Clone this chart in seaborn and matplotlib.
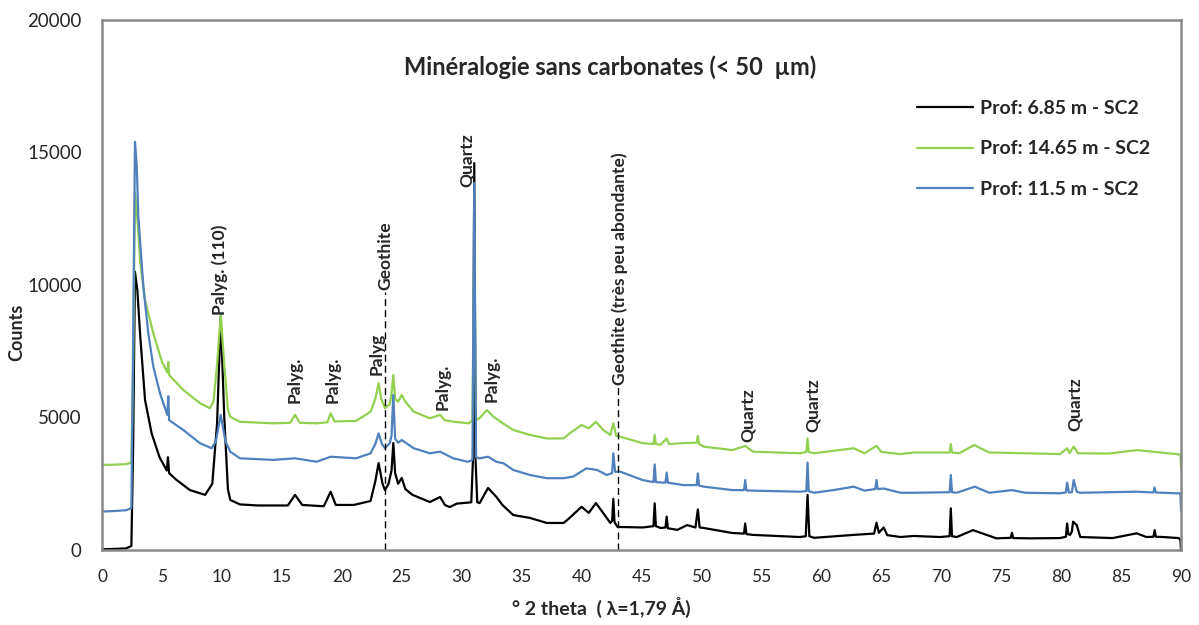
"""XRD patterns, mineralogy without carbonates (< 50 um), SC2 core."""
import matplotlib
matplotlib.use("Agg")
import matplotlib.pyplot as plt
from matplotlib.ticker import MultipleLocator
import pandas as pd
import seaborn as sns

# (2 theta, counts)
black_pts = [
    (0, 30), (1.0, 40), (2.0, 60), (2.45, 150), (2.6, 4000), (2.75, 10500), (2.95, 9800),
    (3.17, 8190), (3.59, 5660), (4.14, 4400), (4.8, 3500), (5.4, 3000), (5.5, 3500), (5.6, 2900),
    (6.2, 2650), (7.34, 2260), (8.6, 2080), (9.2, 2500), (9.6, 4800), (9.9, 8800), (10.2, 5000),
    (10.5, 2300), (10.7, 1890), (11.5, 1720), (13, 1680), (15.5, 1680), (16.1, 2080), (16.7, 1700),
    (18.5, 1650), (19.07, 2200), (19.5, 1700), (21, 1700), (22.4, 1850), (22.8, 2600), (23.07, 3280),
    (23.4, 2500), (23.6, 2260), (23.9, 2500), (24.15, 3000), (24.3, 4040), (24.45, 2900), (24.7, 2500),
    (25.0, 2720), (25.3, 2300), (25.9, 2080), (27.35, 1810), (28.2, 2000), (28.6, 1700), (29.0, 1620),
    (29.6, 1750), (30.8, 1800), (30.95, 3500), (31.05, 14600), (31.15, 3500), (31.3, 1800), (31.5, 1770),
    (32.2, 2340), (32.9, 2000), (33.4, 1700), (34.3, 1320), (35.7, 1210), (37.1, 1020), (38.5, 1020),
    (39.0, 1210), (40.0, 1630), (40.6, 1400), (41.2, 1770), (41.8, 1400), (42.4, 1020), (42.55, 1100),
    (42.65, 1930), (42.75, 1050), (43.0, 870), (45.1, 850), (46.0, 900), (46.1, 1760), (46.2, 900),
    (46.6, 830), (47.0, 850), (47.1, 1260), (47.2, 820), (48.0, 760), (48.8, 940), (49.5, 850),
    (49.7, 1530), (49.85, 850), (50.2, 830), (52.6, 640), (53.55, 620), (53.65, 1000), (53.75, 600),
    (54.3, 570), (58.2, 490), (58.7, 520), (58.85, 2080), (59.0, 520), (59.4, 460), (62.7, 570),
    (64.4, 620), (64.6, 1030), (64.8, 650), (65.2, 850), (65.5, 560), (66.6, 490), (67.7, 530),
    (69.9, 490), (70.7, 520), (70.8, 1570), (70.9, 520), (71.3, 490), (72.65, 750), (73.6, 600),
    (74.6, 440), (75.8, 460), (75.9, 650), (76.0, 450), (77.4, 440), (79.9, 450), (80.4, 500),
    (80.5, 1000), (80.6, 600), (80.75, 570), (80.9, 700), (81.0, 1070), (81.3, 940), (81.6, 490),
    (84.3, 450), (86.3, 630), (87.1, 490), (87.7, 500), (87.8, 750), (87.9, 500), (88.5, 490),
    (89.8, 450), (89.95, 400), (90, 0),
]

green_pts = [
    (0, 3210), (1.0, 3220), (2.0, 3240), (2.45, 3300), (2.6, 7000), (2.75, 13500), (2.95, 12500),
    (3.2, 10800), (3.59, 9430), (4.28, 8180), (5.0, 7100), (5.45, 6700), (5.53, 7100), (5.6, 6600),
    (6.78, 6040), (8.17, 5540), (9.0, 5350), (9.3, 5600), (9.6, 7000), (9.9, 8900), (10.2, 7000),
    (10.5, 5300), (10.7, 5030), (11.5, 4840), (14.3, 4780), (15.7, 4800), (16.1, 5100), (16.5, 4800),
    (17.9, 4780), (18.8, 4820), (19.07, 5160), (19.4, 4850), (21.2, 4870), (22.4, 5220), (22.8, 5700),
    (23.07, 6290), (23.3, 5700), (23.6, 5350), (24.0, 5500), (24.15, 5900), (24.3, 6600), (24.45, 5700),
    (24.7, 5600), (25.0, 5850), (25.3, 5600), (26.0, 5220), (27.35, 4970), (28.2, 5100), (28.6, 4900),
    (29.3, 4840), (30.6, 4780), (30.9, 4900), (31.05, 12000), (31.2, 4900), (31.5, 4980), (32.1, 5280),
    (32.6, 5050), (33.4, 4790), (34.3, 4530), (35.7, 4340), (37.1, 4210), (38.5, 4210), (39.0, 4400),
    (40.0, 4720), (40.6, 4590), (41.2, 4840), (41.8, 4530), (42.4, 4340), (42.65, 4780), (42.9, 4300),
    (43.2, 4280), (45.1, 4030), (46.0, 4000), (46.1, 4340), (46.2, 4000), (46.6, 3970), (47.1, 4210),
    (47.3, 4000), (48.4, 4030), (49.6, 4050), (49.7, 4300), (49.8, 4000), (50.2, 3900), (52.6, 3770),
    (53.65, 3930), (54.3, 3710), (58.2, 3650), (58.75, 3700), (58.85, 4210), (58.95, 3700), (59.4, 3650),
    (62.7, 3840), (63.6, 3650), (64.6, 3930), (65.0, 3700), (66.6, 3620), (67.7, 3680), (70.7, 3680),
    (70.8, 4000), (70.9, 3680), (71.5, 3650), (72.75, 3960), (74.0, 3680), (79.9, 3620), (80.5, 3840),
    (80.7, 3660), (81.05, 3900), (81.4, 3650), (84.0, 3640), (86.3, 3770), (89.6, 3620), (89.95, 3600),
    (90, 3140),
]

blue_pts = [
    (0, 1450), (1.0, 1470), (2.0, 1500), (2.45, 1580), (2.6, 8000), (2.75, 15400), (2.9, 14500),
    (3.03, 12580), (3.45, 9940), (3.86, 8180), (4.28, 6920), (4.84, 5910), (5.45, 5100), (5.53, 5800),
    (5.6, 4900), (6.78, 4530), (8.17, 4030), (9.15, 3840), (9.5, 4100), (9.9, 5100), (10.3, 4100),
    (10.7, 3710), (11.5, 3460), (14.3, 3400), (16.1, 3460), (17.9, 3330), (19.07, 3520), (21.2, 3460),
    (22.4, 3650), (22.8, 4000), (23.07, 4400), (23.35, 4000), (23.6, 3840), (24.0, 4030), (24.15, 4300),
    (24.3, 5850), (24.45, 4200), (24.7, 4050), (25.0, 4150), (26.0, 3840), (27.35, 3650), (28.2, 3710),
    (29.3, 3460), (30.5, 3330), (30.9, 3400), (31.05, 13850), (31.2, 3500), (31.5, 3460), (32.2, 3520),
    (32.9, 3330), (33.5, 3270), (34.3, 3020), (35.7, 2830), (37.1, 2710), (38.5, 2710), (39.3, 2770),
    (40.4, 3080), (41.3, 3020), (42.1, 2830), (42.55, 2900), (42.65, 3650), (42.8, 2950), (43.2, 2960),
    (45.1, 2640), (46.0, 2560), (46.1, 3230), (46.2, 2560), (47.0, 2540), (47.1, 2920), (47.2, 2540),
    (48.5, 2450), (49.6, 2450), (49.7, 2890), (49.8, 2430), (50.2, 2390), (52.6, 2260), (53.55, 2260),
    (53.65, 2640), (53.75, 2250), (54.3, 2240), (58.2, 2200), (58.75, 2220), (58.85, 3300), (58.95, 2220),
    (59.4, 2160), (61.0, 2260), (62.7, 2390), (63.6, 2240), (64.5, 2300), (64.6, 2640), (64.7, 2300),
    (65.2, 2320), (66.6, 2160), (67.7, 2160), (70.7, 2180), (70.8, 2830), (70.9, 2180), (71.3, 2160),
    (72.8, 2390), (74.0, 2160), (75.9, 2260), (77.0, 2160), (79.9, 2140), (80.4, 2170), (80.5, 2540),
    (80.65, 2170), (80.9, 2180), (81.05, 2640), (81.3, 2200), (81.6, 2160), (86.3, 2200), (87.7, 2170),
    (87.8, 2360), (87.9, 2170), (89.6, 2140), (89.95, 2140), (90, 1480),
]

series_names = ["Prof: 6.85 m - SC2", "Prof: 14.65 m - SC2", "Prof: 11.5 m - SC2"]
series_colors = ["#000000", "#92D050", "#4F81BD"]

# peak annotations: text, 2 theta, counts at the bottom of the text
peak_labels = ["Palyg. (110)", "Palyg.", "Palyg.", "Palyg", "Geothite", "Palyg.", "Quartz",
               "Palyg.", "Geothite (très peu abondante)", "Quartz", "Quartz", "Quartz"]
peak_x = [9.84, 16.1, 19.27, 22.9, 23.6, 28.4, 30.44, 32.5, 43.2, 53.9, 59.3, 81.15]
peak_y = [8870, 5550, 5550, 6600, 9810, 5280, 13700, 5590, 6230, 4080, 4450, 4490]

# dashed goethite markers
goethite_x = [23.6, 43.0]
goethite_top = [9750, 6180]

GREY = "#898989"

sns.set_style("white")
plt.rcParams["font.family"] = ["Lato", "DejaVu Sans"]

fig = plt.figure(figsize=(11.99, 6.25), dpi=100)
ax = fig.add_axes([102 / 1199, 1 - 550 / 625, 1079 / 1199, 530 / 625])

for pts, name, color in zip([black_pts, green_pts, blue_pts], series_names, series_colors):
    df = pd.DataFrame(pts, columns=["theta", "counts"])
    sns.lineplot(data=df, x="theta", y="counts", color=color, lw=1.6, label=name,
                 sort=False, estimator=None, ax=ax)

ax.vlines(goethite_x, 0, goethite_top, colors="black", linestyles=(0, (5, 3)), lw=1.0)

for text, x, y in zip(peak_labels, peak_x, peak_y):
    ax.text(x, y, text, rotation=90, ha="center", va="bottom",
            fontsize=12.5, fontweight="bold")

ax.text(42.4, 18200, "Minéralogie sans carbonates (< 50  µm)", ha="center", va="center",
        fontsize=17, fontweight="bold")

ax.set_xlim(0, 90)
ax.set_ylim(0, 20000)
ax.xaxis.set_major_locator(MultipleLocator(5))
ax.xaxis.set_minor_locator(MultipleLocator(1))
ax.yaxis.set_major_locator(MultipleLocator(5000))
ax.yaxis.set_minor_locator(MultipleLocator(2500))

ax.tick_params(axis="x", which="major", direction="in", length=6, width=1, color=GREY,
               labelsize=12.5, pad=14)
ax.tick_params(axis="x", which="minor", direction="in", length=4, width=1, color=GREY)
ax.tick_params(axis="y", which="major", direction="out", length=4.5, width=1.2, color=GREY,
               labelsize=13.5, pad=10)
ax.tick_params(axis="y", which="minor", direction="in", length=5, width=1.2, color=GREY)

for spine in ax.spines.values():
    spine.set_color(GREY)
    spine.set_linewidth(1.8)

ax.set_xlabel("° 2 theta  ( λ=1,79 Å)", fontsize=14, fontweight="bold")
ax.xaxis.set_label_coords(0.463, -0.088)
ax.set_ylabel("Counts", fontsize=13, fontweight="bold")
ax.yaxis.set_label_coords(-0.071, 0.41)

leg = ax.legend(loc="upper left", bbox_to_anchor=(0.755, 0.849), frameon=False,
                fontsize=14, handlelength=2.9, handletextpad=0.35, labelspacing=1.2,
                borderpad=0, borderaxespad=0)
for t in leg.get_texts():
    t.set_fontweight("bold")

fig.savefig("out.png", dpi=100)
